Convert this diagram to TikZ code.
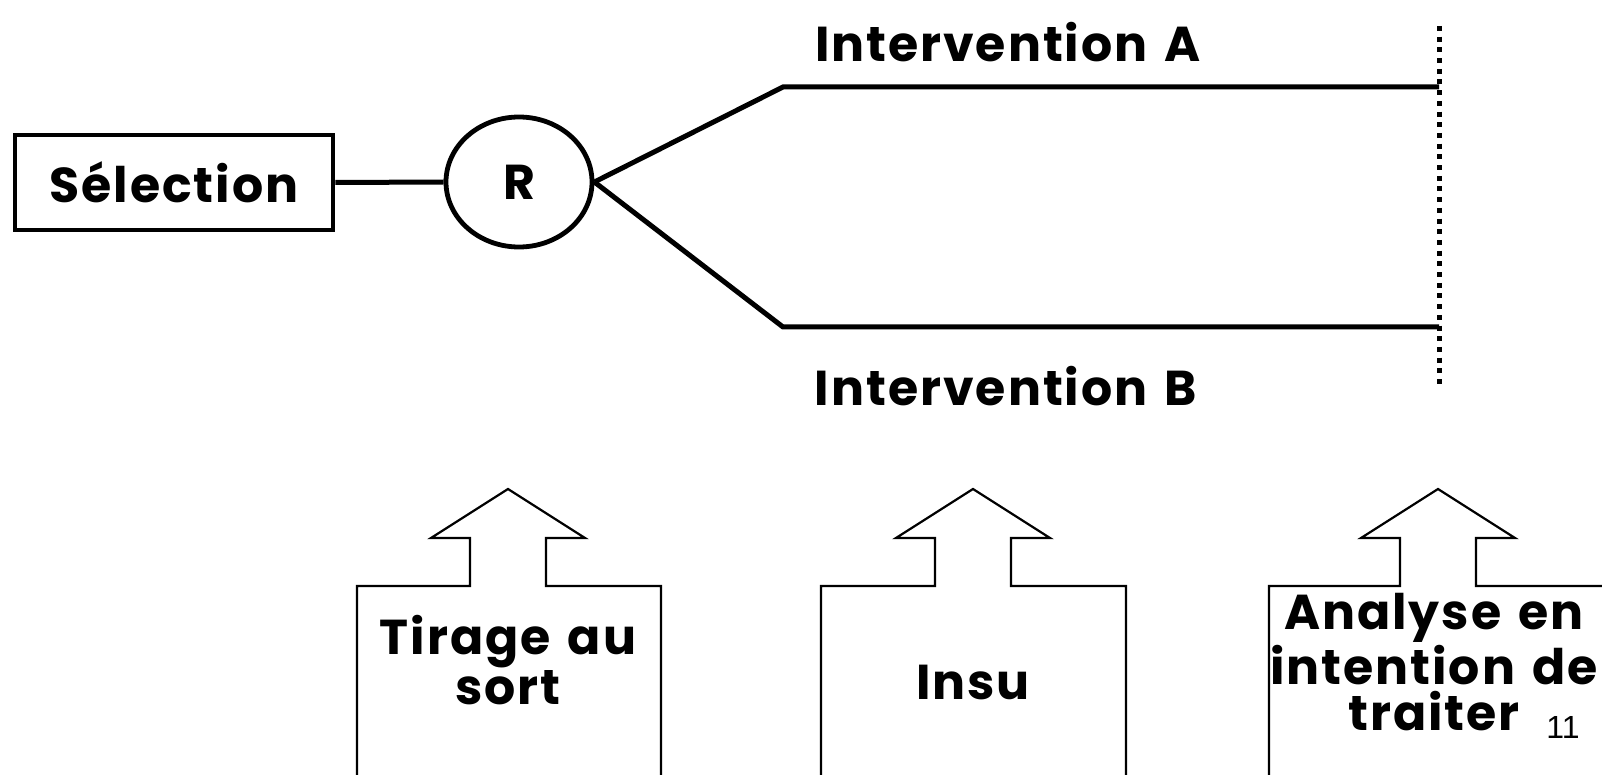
\documentclass[tikz,border=0pt]{standalone}
\usepackage{fontspec}
\setmainfont{Poppins}[LetterSpace=4, WordSpace=1.4]
\newfontfamily\pagefont{Liberation Sans}
\usetikzlibrary{shapes.geometric}

\tikzset{
  bigtext/.style={font=\bfseries\fontsize{24.5}{23}\selectfont},
  selbox/.style={draw, line width=2.4pt, minimum width=159pt, minimum height=47.5pt, bigtext},
  randnode/.style={draw, ellipse, line width=2.4pt, minimum width=73pt, minimum height=65pt, inner sep=0pt, bigtext},
  branch/.style={line width=2.5pt},
  cutoff/.style={line width=2.5pt, dash pattern=on 2.5pt off 2.85pt},
  boxarrow/.style={line width=1.1pt, line join=miter},
  boxtext/.style={bigtext, align=center}
}

\begin{document}
\begin{tikzpicture}[x=0.5pt, y=-0.5pt]
    \useasboundingbox (0,0) rectangle (1602,775);
    \clip (0,0) rectangle (1602,775);

    % Selection and randomisation
    \node [selbox] (sel) at (174,182.5) {Sélection};
    \node [randnode] (R) at (519,182) {R};
    \draw [branch] (sel.east) -- (R.west);

    % The two arms
    \coordinate (kneeA) at (783,87);
    \coordinate (endA) at (1439,87);
    \coordinate (kneeB) at (783,327);
    \coordinate (endB) at (1439,327);
    \draw [branch] (R.east) -- (kneeA) -- (endA);
    \draw [branch] (R.east) -- (kneeB) -- (endB);
    \node [bigtext] (armA) at (1008,42) {Intervention A};
    \node [bigtext] (armB) at (1006,386) {Intervention B};

    % End of follow-up
    \coordinate (cutTop) at (1439,26);
    \coordinate (cutBot) at (1439,388);
    \draw [cutoff] (cutTop) -- (cutBot);

    % Block arrows pointing up
    \foreach \cx/\lx/\rx in {508/357/661, 973/821/1126, 1438/1269/1610}
        \draw [boxarrow] (\lx,780) -- (\lx,586) -- (\cx-38,586) -- (\cx-38,538)
            -- (\cx-77,538) -- (\cx,489) -- (\cx+77,538) -- (\cx+38,538)
            -- (\cx+38,586) -- (\rx,586) -- (\rx,780);

    \node [boxtext] (tirage) at (508,660) {Tirage au\\sort};
    \node [boxtext] (insu) at (973,682) {Insu};
    \node [boxtext] (itt) at (1434,662) {Analyse en\\intention de\\traiter};
    \node [font=\pagefont\fontsize{16}{16}\selectfont] (page) at (1563,727) {11};
\end{tikzpicture}
\end{document}
